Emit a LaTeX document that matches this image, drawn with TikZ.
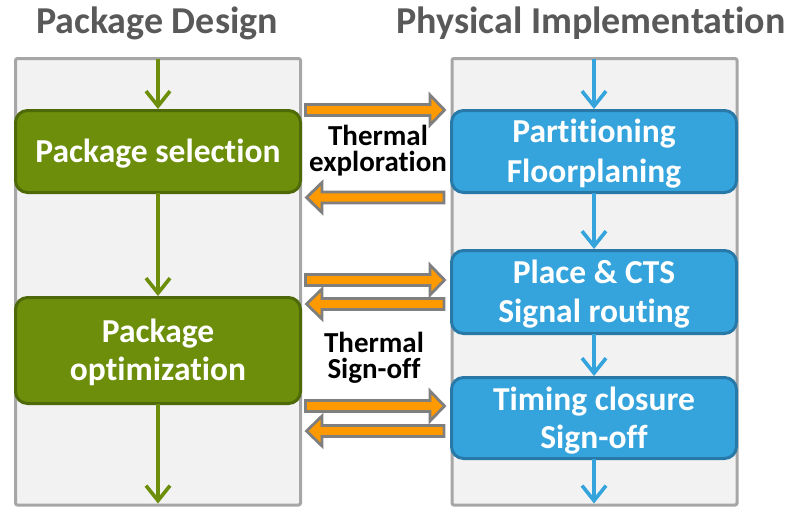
\documentclass[tikz,border=0pt]{standalone}
\usepackage{fontspec}
\setmainfont{Carlito}[Ligatures=NoCommon]
\usetikzlibrary{arrows.meta}
\definecolor{pfill}{HTML}{F2F2F2}
\definecolor{pline}{HTML}{A6A6A6}
\definecolor{gfill}{HTML}{6C8E0A}
\definecolor{gline}{HTML}{4E6A08}
\definecolor{bfill}{HTML}{35A4DC}
\definecolor{bline}{HTML}{2878A8}
\definecolor{ofill}{HTML}{FF9900}
\definecolor{oline}{HTML}{7F7F7F}
\definecolor{ttl}{HTML}{595959}
\newcommand\thermRight[1]{\draw[tharrow] (305.5,{#1-5.5}) -- (430,{#1-5.5}) -- (430,{#1-15}) -- (444.5,#1) -- (430,{#1+15}) -- (430,{#1+5.5}) -- (305.5,{#1+5.5}) -- cycle;}
\newcommand\thermLeft[1]{\draw[tharrow] (444,{#1-5.5}) -- (322,{#1-5.5}) -- (322,{#1-15}) -- (306.5,#1) -- (322,{#1+15}) -- (322,{#1+5.5}) -- (444,{#1+5.5}) -- cycle;}
\begin{document}
\begin{tikzpicture}[x=1pt,y=-1pt,
  panel/.style={draw=pline,fill=pfill,line width=3pt,rounded corners=2pt,minimum width=285pt,minimum height=446.5pt,inner sep=0pt,outer sep=0pt},
  gbox/.style={draw=gline,fill=gfill,line width=3pt,rounded corners=12pt,minimum width=285pt,inner sep=0pt,outer sep=0pt},
  bbox/.style={draw=bline,fill=bfill,line width=3pt,rounded corners=12pt,minimum width=285pt,inner sep=0pt,outer sep=0pt},
  boxtxt/.style={text=white,font=\fontsize{33.5}{39}\selectfont\bfseries,anchor=base,inner sep=0pt},
  ttltxt/.style={text=ttl,font=\fontsize{38}{40}\selectfont\bfseries,anchor=base,inner sep=0pt},
  thtxt/.style={text=black,font=\fontsize{29}{29}\selectfont\bfseries,anchor=base,inner sep=0pt},
  garrow/.style={draw=gfill,line width=3.6pt,shorten >=1.5pt,-{Straight Barb[length=15pt,width=24pt]}},
  barrow/.style={draw=bfill,line width=3.6pt,shorten >=1.5pt,-{Straight Barb[length=15pt,width=24pt]}},
  tharrow/.style={draw=oline,fill=ofill,line width=2.8pt,line join=miter}
]
\useasboundingbox (0,0) rectangle (791,507);
% panels
\node[panel] (pd) at (158,281.75) {};
\node[panel] (pi) at (594.5,281.75) {};
% titles
\node[ttltxt] (t1) at (157,33) {Package Design};
\node[ttltxt] (t2) at (591,33) {Physical Implementation};
% boxes
\node[gbox,minimum height=82pt] (g1) at (158,151.5) {};
\node[gbox,minimum height=106pt] (g2) at (158,350.5) {};
\node[bbox,minimum height=82pt] (b1) at (594,151.5) {};
\node[bbox,minimum height=83pt] (b2) at (594,292) {};
\node[bbox,minimum height=81pt] (b3) at (594,418) {};
% flow arrows
\draw[garrow] (g1.north |- pd.north) -- (g1.north);
\draw[garrow] (g1.south) -- (g2.north);
\draw[garrow] (g2.south) -- (g2.south |- pd.south);
\draw[barrow] (b1.north |- pi.north) -- (b1.north);
\draw[barrow] (b1.south) -- (b2.north);
\draw[barrow] (b2.south) -- (b3.north);
\draw[barrow] (b3.south) -- (b3.south |- pi.south);
% box texts
\node[boxtxt] (g1a) at (158,162) {Package selection};
\node[boxtxt] (g2a) at (158,342) {Package};
\node[boxtxt] (g2b) at (158,380) {optimization};
\node[boxtxt] (b1a) at (594,142) {Partitioning};
\node[boxtxt] (b1b) at (594,182) {Floorplaning};
\node[boxtxt] (b2a) at (594,283) {Place \& CTS};
\node[boxtxt] (b2b) at (594,322) {Signal routing};
\node[boxtxt] (b3a) at (594,410) {Timing closure};
\node[boxtxt] (b3b) at (594,448) {Sign-off};
% thermal arrows
\thermRight{110}
\thermLeft{197.5}
\thermRight{280}
\thermLeft{304}
\thermRight{406}
\thermLeft{431}
% thermal texts
\node[thtxt] (th1a) at (378,145) {Thermal};
\node[thtxt] (th1b) at (378,171) {exploration};
\node[thtxt] (th2a) at (374,352) {Thermal};
\node[thtxt] (th2b) at (374,378) {Sign-off};
\end{tikzpicture}
\end{document}
